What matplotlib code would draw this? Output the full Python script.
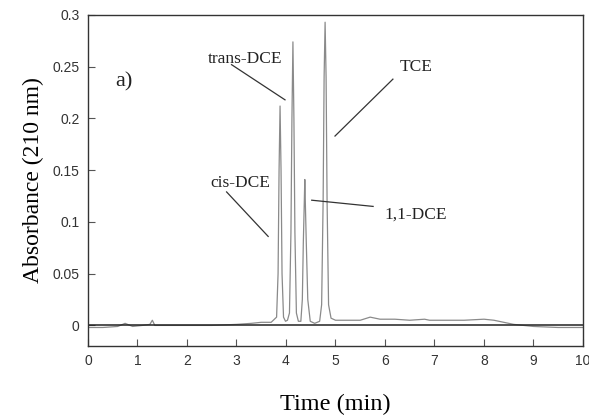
import matplotlib
matplotlib.use("Agg")
import matplotlib.pyplot as plt
from matplotlib.ticker import FuncFormatter

# chromatogram trace
time_min = [0.0, 0.3, 0.6, 0.75, 0.8, 0.9, 1.1, 1.25, 1.3, 1.35, 1.5, 2.0, 2.5, 3.0,
            3.3, 3.5, 3.7, 3.81, 3.84, 3.86, 3.88, 3.90, 3.92, 3.95, 3.99, 4.03,
            4.07, 4.10, 4.12, 4.14, 4.16, 4.18, 4.21, 4.25, 4.30, 4.33, 4.35, 4.37,
            4.38, 4.39, 4.41, 4.44, 4.49, 4.58, 4.68, 4.72, 4.75, 4.77, 4.79, 4.81,
            4.83, 4.86, 4.91, 5.0, 5.3, 5.5, 5.7, 5.9, 6.2, 6.5, 6.8, 6.9, 7.2,
            7.6, 8.0, 8.2, 8.4, 8.6, 9.0, 9.5, 10.0]
absorb = [-0.002, -0.002, -0.001, 0.002, 0.001, -0.001, 0.0, 0.001, 0.005, 0.0, 0.0,
          0.0, 0.0, 0.001, 0.002, 0.003, 0.003, 0.008, 0.05, 0.15, 0.212, 0.15, 0.05,
          0.008, 0.004, 0.005, 0.012, 0.09, 0.2, 0.274, 0.2, 0.09, 0.012, 0.004,
          0.004, 0.025, 0.08, 0.12, 0.141, 0.12, 0.08, 0.025, 0.004, 0.002, 0.004,
          0.02, 0.12, 0.24, 0.293, 0.24, 0.12, 0.02, 0.007, 0.005, 0.005, 0.005,
          0.008, 0.006, 0.006, 0.005, 0.006, 0.005, 0.005, 0.005, 0.006, 0.005,
          0.003, 0.001, -0.001, -0.002, -0.002]

# peak labels: name, text position, line start, line end
labels = ["trans-DCE", "cis-DCE", "1,1-DCE", "TCE"]
text_xy = [(3.17, 0.257), (3.07, 0.138), (6.63, 0.107), (6.63, 0.250)]
line_from = [(2.90, 0.252), (2.80, 0.129), (5.76, 0.115), (6.16, 0.238)]
line_to = [(3.98, 0.218), (3.64, 0.086), (4.52, 0.121), (4.99, 0.183)]

fig = plt.figure(figsize=(5.89, 4.16), dpi=100)
ax = fig.add_axes([0.1494, 0.168, 0.8404, 0.796])

ax.plot(time_min, absorb, color="#8a8a8a", lw=0.9)
ax.axhline(0, color="#222222", lw=1.1)

for name, txy, p0, p1 in zip(labels, text_xy, line_from, line_to):
    ax.plot([p0[0], p1[0]], [p0[1], p1[1]], color="#333333", lw=0.9)
    ax.text(txy[0], txy[1], name, family="Liberation Serif", fontsize=12.5,
            ha="center", va="center", color="#222222")

ax.text(0.73, 0.235, "a)", family="Liberation Serif", fontsize=16,
        ha="center", va="center", color="#222222")

ax.set_xlim(0, 10)
ax.set_ylim(-0.02, 0.3)
ax.set_xticks(range(0, 11))
ax.set_yticks([0, 0.05, 0.1, 0.15, 0.2, 0.25, 0.3])
ax.yaxis.set_major_formatter(FuncFormatter(lambda v, p: "%g" % round(v, 3)))
ax.tick_params(direction="in", length=5, width=0.8, labelsize=10,
               labelcolor="#333333", color="#555555", pad=6)
for lab in ax.get_xticklabels() + ax.get_yticklabels():
    lab.set_family("Liberation Sans")
for s in ax.spines.values():
    s.set_linewidth(1.0)
    s.set_color("#333333")

ax.set_xlabel("Time (min)", family="Liberation Serif", fontsize=17.5, labelpad=18)
ax.set_ylabel("Absorbance (210 nm)", family="Liberation Serif", fontsize=17,
              labelpad=6)

fig.savefig("out.png", dpi=100)
